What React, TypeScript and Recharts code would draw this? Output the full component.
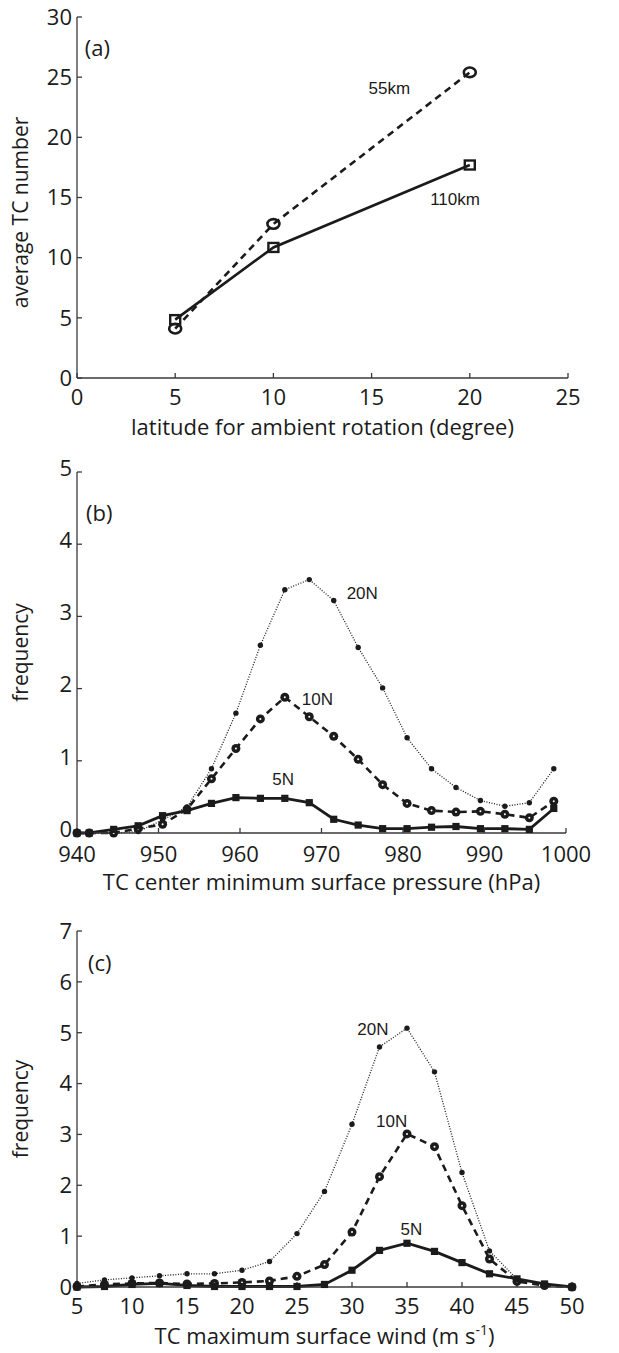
import React from 'react';
import { LineChart, Line, XAxis, YAxis, ReferenceDot } from 'recharts';

// (a) average TC count against latitude used for the ambient rotation
const latitudes = [5, 10, 20];
const tc55km = [4.1, 12.8, 25.4];
const tc110km = [4.85, 10.85, 17.7];

// (b) distribution of TC centre minimum surface pressure (hPa)
const pressure = [940, 941.5, 944.5, 947.5, 950.5, 953.5, 956.5, 959.5, 962.5, 965.5, 968.5, 971.5, 974.5, 977.5, 980.5, 983.5, 986.5, 989.5, 992.5, 995.5, 998.5];
const pres5N = [0, 0, 0.05, 0.1, 0.24, 0.31, 0.41, 0.49, 0.48, 0.48, 0.42, 0.19, 0.11, 0.06, 0.06, 0.08, 0.09, 0.06, 0.06, 0.05, 0.34];
const pres10N = [0, 0, 0, 0.06, 0.12, 0.33, 0.75, 1.17, 1.58, 1.88, 1.61, 1.34, 1.02, 0.67, 0.41, 0.31, 0.29, 0.3, 0.26, 0.21, 0.44];
const pres20N = [0, 0, 0, 0.02, 0.18, 0.36, 0.89, 1.66, 2.6, 3.37, 3.51, 3.22, 2.57, 2.01, 1.32, 0.89, 0.63, 0.45, 0.37, 0.42, 0.89];

// (c) distribution of TC maximum surface wind (m/s)
const wind = [5, 7.5, 10, 12.5, 15, 17.5, 20, 22.5, 25, 27.5, 30, 32.5, 35, 37.5, 40, 42.5, 45, 47.5, 50];
const wind5N = [0, 0.01, 0.05, 0.07, 0.03, 0.01, 0.01, 0.01, 0.01, 0.05, 0.33, 0.72, 0.86, 0.7, 0.48, 0.26, 0.16, 0.06, 0];
const wind10N = [0.01, 0.05, 0.07, 0.08, 0.06, 0.07, 0.09, 0.12, 0.21, 0.44, 1.08, 2.17, 3.01, 2.76, 1.6, 0.55, 0.11, 0.03, 0];
const wind20N = [0.07, 0.14, 0.18, 0.22, 0.26, 0.26, 0.33, 0.5, 1.05, 1.88, 3.2, 4.72, 5.09, 4.23, 2.25, 0.71, 0.15, 0.05, 0];

const ticksLat = [0, 5, 10, 15, 20, 25];
const ticksCount = [0, 5, 10, 15, 20, 25, 30];
const ticksPres = [940, 950, 960, 970, 980, 990, 1000];
const ticksFreqB = [0, 1, 2, 3, 4, 5];
const ticksWind = [5, 10, 15, 20, 25, 30, 35, 40, 45, 50];
const ticksFreqC = [0, 1, 2, 3, 4, 5, 6, 7];

const rowsA = latitudes.map((lat, i) => ({ lat, km55: tc55km[i], km110: tc110km[i] }));
const rowsB = pressure.map((p, i) => ({ p, n5: pres5N[i], n10: pres10N[i], n20: pres20N[i] }));
const rowsC = wind.map((w, i) => ({ w, n5: wind5N[i], n10: wind10N[i], n20: wind20N[i] }));

const INK = '#1b1b1b';
const FRAME = '#3a3a3a';
const SANS = '"Open Sans", "DejaVu Sans", sans-serif';
const HELV = '"Liberation Sans", Arial, sans-serif';
const tickFont = { fontSize: 22, fill: INK, fontFamily: SANS };

// markers
const ringDot = (p: any) => (
  <ellipse key={`ring${p.index}`} cx={p.cx} cy={p.cy} rx={6} ry={4.8} fill="none" stroke={INK} strokeWidth={2.6} />
);
const boxDot = (p: any) => (
  <rect key={`box${p.index}`} x={p.cx - 5} y={p.cy - 4.5} width={10} height={9} fill="none" stroke={INK} strokeWidth={2.4} />
);
const pinDot = (p: any) => <circle key={`pin${p.index}`} cx={p.cx} cy={p.cy} r={2.7} fill={INK} />;
const beadDot = (p: any) => (
  <g key={`bead${p.index}`}>
    <circle cx={p.cx} cy={p.cy} r={4.5} fill={INK} />
    <circle cx={p.cx} cy={p.cy} r={1} fill="#fff" />
  </g>
);
const squareDot = (p: any) => (
  <rect key={`sq${p.index}`} x={p.cx - 3.6} y={p.cy - 3.6} width={7.2} height={7.2} fill={INK} />
);

// text placed in data coordinates
function note(id: string, text: string, x: number, y: number, anchor = 'middle', family = HELV, size = 17) {
  return (
    <ReferenceDot
      key={id}
      x={x}
      y={y}
      r={0}
      ifOverflow="visible"
      shape={(p: any) => (
        <text x={p.cx} y={p.cy} textAnchor={anchor} fontFamily={family} fontSize={size} fill={INK}>
          {text}
        </text>
      )}
    />
  );
}

const yTitle = (text: string, shift: number) => ({
  content: (p: any) => {
    const vb = p.viewBox;
    const x = vb.x + 28;
    const y = vb.y + vb.height / 2 + shift;
    return (
      <text x={x} y={y} transform={`rotate(-90 ${x} ${y})`} textAnchor="middle" fontFamily={SANS} fontSize={21} fill={INK}>
        {text}
      </text>
    );
  },
});

const xTitle = (body: React.ReactNode) => ({
  content: (p: any) => {
    const vb = p.viewBox;
    return (
      <text x={vb.x + vb.width / 2} y={vb.y + 57} textAnchor="middle" fontFamily={SANS} fontSize={22} fill={INK}>
        {body}
      </text>
    );
  },
});

// boxed MATLAB-style frame with inward ticks on all four sides
function frame(opts: {
  xKey: string;
  xDomain: [number, number];
  xTicks: number[];
  yDomain: [number, number];
  yTicks: number[];
  xHeight: number;
  tickGap: number;
  yTickLift?: number;
  xLabel: any;
  yLabel: any;
}) {
  const line = { stroke: FRAME, strokeWidth: 1.3 };
  return [
    <XAxis
      key="xb"
      dataKey={opts.xKey}
      type="number"
      domain={opts.xDomain}
      ticks={opts.xTicks}
      interval={0}
      height={opts.xHeight}
      tickSize={-5}
      tickMargin={opts.tickGap}
      axisLine={line}
      tickLine={line}
      tick={tickFont}
      label={opts.xLabel}
    />,
    <XAxis
      key="xt"
      xAxisId="top"
      orientation="top"
      type="number"
      domain={opts.xDomain}
      ticks={opts.xTicks}
      interval={0}
      height={0}
      tickSize={-5}
      axisLine={line}
      tickLine={line}
      tick={false}
    />,
    <YAxis
      key="yl"
      type="number"
      domain={opts.yDomain}
      ticks={opts.yTicks}
      interval={0}
      width={77}
      tickSize={-5}
      tickMargin={10}
      axisLine={line}
      tickLine={line}
      tick={{ ...tickFont, dy: -(opts.yTickLift ?? 0) }}
      label={opts.yLabel}
    />,
    <YAxis
      key="yr"
      yAxisId="right"
      orientation="right"
      type="number"
      domain={opts.yDomain}
      ticks={opts.yTicks}
      interval={0}
      width={0}
      tickSize={-5}
      axisLine={line}
      tickLine={line}
      tick={false}
    />,
  ];
}

export default function App() {
  return (
    <div style={{ position: 'absolute', left: 0, top: 0, width: 619, height: 1353, background: '#fff' }}>
      <div style={{ position: 'absolute', left: 0, top: 0 }}>
        <LineChart width={619} height={450} data={rowsA} margin={{ top: 17, right: 51, left: 0, bottom: 0 }}>
          {frame({
            xKey: 'lat',
            xDomain: [0, 25],
            xTicks: ticksLat,
            yDomain: [0, 30],
            yTicks: ticksCount,
            xHeight: 72,
            tickGap: 16,
            xLabel: xTitle('latitude for ambient rotation (degree)'),
            yLabel: yTitle('average TC number', 15),
          })}
          <Line type="linear" dataKey="km55" stroke={INK} strokeWidth={2.6} strokeDasharray="7 5" dot={ringDot} isAnimationActive={false} />
          <Line type="linear" dataKey="km110" stroke={INK} strokeWidth={2.6} dot={boxDot} isAnimationActive={false} />
          {note('a-tag', '(a)', 0.4, 26.8, 'start', SANS, 22)}
          {note('a-55', '55km', 15.9, 23.6)}
          {note('a-110', '110km', 19.25, 14.4)}
        </LineChart>
      </div>

      <div style={{ position: 'absolute', left: 0, top: 450 }}>
        <LineChart width={619} height={450} data={rowsB} margin={{ top: 22, right: 53, left: 0, bottom: 0 }}>
          {frame({
            xKey: 'p',
            xDomain: [940, 1000],
            xTicks: ticksPres,
            yDomain: [0, 5],
            yTicks: ticksFreqB,
            xHeight: 67,
            tickGap: 18,
            yTickLift: 4,
            xLabel: xTitle('TC center minimum surface pressure (hPa)'),
            yLabel: yTitle('frequency', 0),
          })}
          <Line type="linear" dataKey="n20" stroke={INK} strokeWidth={1.3} strokeDasharray="1 1.6" dot={pinDot} isAnimationActive={false} />
          <Line type="linear" dataKey="n10" stroke={INK} strokeWidth={2.6} strokeDasharray="7 5" dot={beadDot} isAnimationActive={false} />
          <Line type="linear" dataKey="n5" stroke={INK} strokeWidth={2.8} dot={squareDot} isAnimationActive={false} />
          {note('b-tag', '(b)', 941.1, 4.32, 'start', SANS, 22)}
          {note('b-20', '20N', 975, 3.24)}
          {note('b-10', '10N', 969.5, 1.77)}
          {note('b-5', '5N', 965.3, 0.66)}
        </LineChart>
      </div>

      <div style={{ position: 'absolute', left: 0, top: 900 }}>
        <LineChart width={619} height={453} data={rowsC} margin={{ top: 31, right: 47, left: 0, bottom: 0 }}>
          {frame({
            xKey: 'w',
            xDomain: [5, 50],
            xTicks: ticksWind,
            yDomain: [0, 7],
            yTicks: ticksFreqC,
            xHeight: 66,
            tickGap: 16,
            xLabel: xTitle(
              <>
                TC maximum surface wind (m s
                <tspan dy={-9} fontSize={14}>
                  -1
                </tspan>
                <tspan dy={9}>)</tspan>
              </>
            ),
            yLabel: yTitle('frequency', 0),
          })}
          <Line type="linear" dataKey="n20" stroke={INK} strokeWidth={1.3} strokeDasharray="1 1.6" dot={pinDot} isAnimationActive={false} />
          <Line type="linear" dataKey="n10" stroke={INK} strokeWidth={2.6} strokeDasharray="7 5" dot={beadDot} isAnimationActive={false} />
          <Line type="linear" dataKey="n5" stroke={INK} strokeWidth={2.8} dot={squareDot} isAnimationActive={false} />
          {note('c-tag', '(c)', 6.0, 6.21, 'start', SANS, 22)}
          {note('c-20', '20N', 31.9, 4.95)}
          {note('c-10', '10N', 33.6, 3.15)}
          {note('c-5', '5N', 35.4, 1.02)}
        </LineChart>
      </div>
    </div>
  );
}
